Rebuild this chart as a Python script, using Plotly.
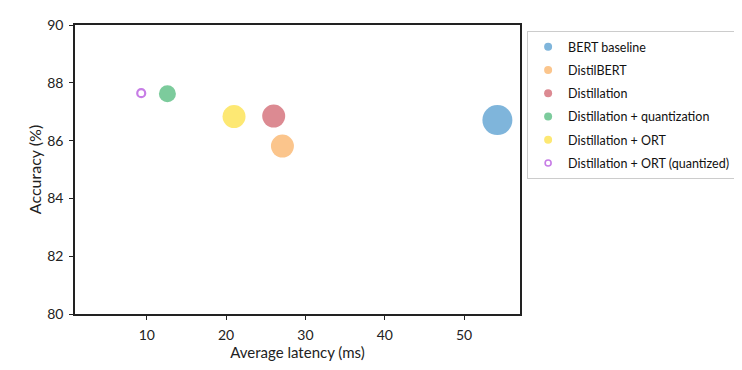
import plotly.graph_objects as go

models = ["BERT baseline", "DistilBERT", "Distillation", "Distillation + quantization",
          "Distillation + ORT", "Distillation + ORT (quantized)"]
latency_ms = [54.2, 27.1, 26.0, 12.6, 21.0, 9.3]
accuracy = [86.71, 85.81, 86.85, 87.62, 86.83, 87.64]
marker_px = [30, 23, 23, 17, 23, 10]
colors = ["#7fb5db", "#fbc58c", "#dc8a92", "#7ccb9c", "#fde873", "#c77de6"]
hollow = [False, False, False, False, False, True]

FONT = "Lato"

fig = go.Figure()
for name, x, y, s, c, h in zip(models, latency_ms, accuracy, marker_px, colors, hollow):
    fig.add_trace(go.Scatter(
        x=[x], y=[y], mode="markers", name=name, showlegend=False,
        marker=dict(size=s if not h else s - 2, color=c if not h else "white",
                    symbol="circle",
                    line=dict(width=2.2 if h else 0, color=c)),
    ))
for i, (name, c, h) in enumerate(zip(models, colors, hollow)):
    fig.add_trace(go.Scatter(
        x=[None], y=[None], mode="markers", name=name, legendgroup=f"g{i}",
        marker=dict(size=8 if not h else 6, color=c if not h else "white",
                    line=dict(width=1.6 if h else 0, color=c)),
    ))

axis_common = dict(showgrid=False, zeroline=False, showline=True, linecolor="#222",
                   linewidth=1.5, mirror=True, ticks="outside", ticklen=4,
                   tickcolor="#222", automargin=False, ticklabelstandoff=3,
                   tickfont=dict(family=FONT, size=14, color="#222"))

fig.update_layout(
    width=742, height=370,
    margin=dict(l=67, r=230, t=17, b=64),
    paper_bgcolor="white", plot_bgcolor="white",
    font=dict(family=FONT, size=14, color="#222"),
    legend=dict(x=1.016, y=0.979, xanchor="left", yanchor="top",
                bordercolor="#cccccc", borderwidth=1,
                font=dict(family=FONT, size=12.5, color="#111"),
                itemsizing="trace", tracegroupgap=4, itemwidth=30),
    xaxis=dict(range=[0.95, 57.05], tickvals=[10, 20, 30, 40, 50],
               title=dict(text="Average latency (ms)", standoff=1,
                          font=dict(family=FONT, size=15)), **axis_common),
    yaxis=dict(range=[80, 90], tickvals=[80, 82, 84, 86, 88, 90],
               title=dict(text="Accuracy (%)", standoff=2,
                          font=dict(family=FONT, size=16)), **axis_common),
)

fig.write_html("out.html")
